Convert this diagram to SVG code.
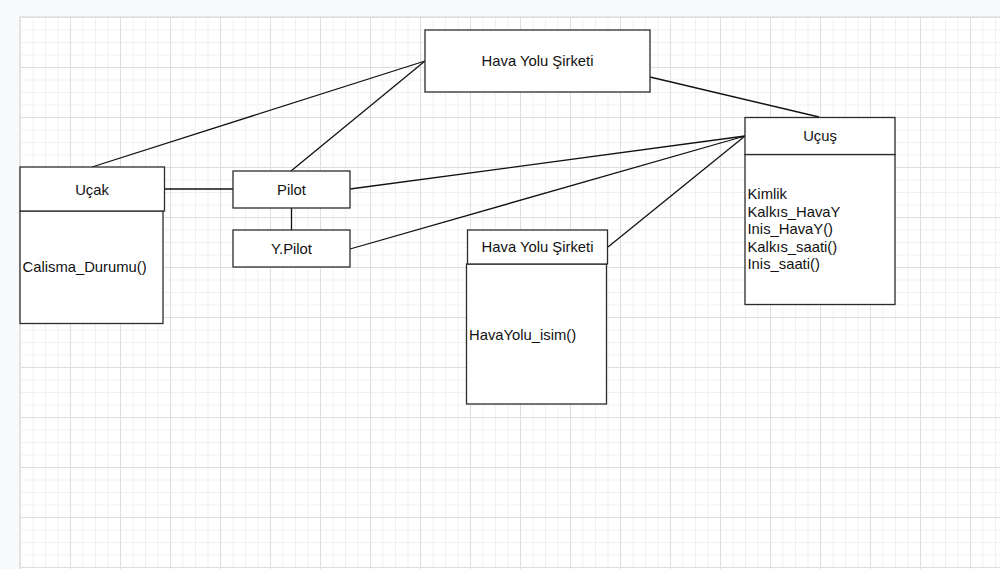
<svg xmlns="http://www.w3.org/2000/svg" width="1000" height="569" viewBox="0 0 1000 569">
  <defs>
    <pattern id="minor" x="20" y="17" width="12.5" height="12.5" patternUnits="userSpaceOnUse">
      <path d="M0 0.5 H12.5 M0.5 0 V12.5" fill="none" stroke="#f0f0f0" stroke-width="1"/>
    </pattern>
    <pattern id="major" x="20" y="17" width="50" height="50" patternUnits="userSpaceOnUse">
      <path d="M0 0.5 H50 M0.5 0 V50" fill="none" stroke="#dedede" stroke-width="1"/>
    </pattern>
    <style>
      .box { fill: #ffffff; stroke: #2b2b2b; stroke-width: 1.3; }
      .edge { fill: none; stroke: #111111; stroke-width: 1.3; }
      .lbl { font-family: "Liberation Sans", Arial, sans-serif; font-size: 14.8px; fill: #111111; }
      .mid { text-anchor: middle; }
    </style>
  </defs>
  <rect x="0" y="0" width="1000" height="569" fill="#f8f9fa"/>
  <rect x="20" y="17" width="980" height="552" fill="#ffffff"/>
  <rect x="20" y="17" width="980" height="552" fill="url(#minor)"/>
  <rect x="20" y="17" width="980" height="552" fill="url(#major)"/>
  <line x1="19.5" y1="16" x2="19.5" y2="569" stroke="#e4e6e8" stroke-width="1"/>
  <line x1="19" y1="16.5" x2="1000" y2="16.5" stroke="#e4e6e8" stroke-width="1"/>

  <g id="connectors">
    <line class="edge" x1="92" y1="167" x2="425" y2="61"/>
    <line class="edge" x1="291" y1="171" x2="425" y2="61"/>
    <line class="edge" x1="650" y1="77" x2="819" y2="117"/>
    <line class="edge" x1="165" y1="189" x2="233" y2="189"/>
    <line class="edge" x1="291.5" y1="208" x2="291.5" y2="230"/>
    <line class="edge" x1="350" y1="189" x2="745" y2="136"/>
    <line class="edge" x1="350" y1="249" x2="745" y2="136"/>
    <line class="edge" x1="608" y1="247" x2="745" y2="136"/>
  </g>

  <g id="havayolu-top">
    <rect class="box" x="425" y="30" width="225" height="62"/>
    <text class="lbl mid" x="537.5" y="66">Hava Yolu Şirketi</text>
  </g>

  <g id="ucak">
    <rect class="box" x="20" y="211" width="143" height="112.5"/>
    <rect class="box" x="20" y="167" width="144.5" height="44"/>
    <text class="lbl mid" x="92" y="195">Uçak</text>
    <text class="lbl" x="22.5" y="272">Calisma_Durumu()</text>
  </g>

  <g id="pilot">
    <rect class="box" x="233" y="171" width="117" height="37"/>
    <text class="lbl mid" x="291.5" y="195">Pilot</text>
  </g>

  <g id="ypilot">
    <rect class="box" x="233" y="230" width="117" height="37"/>
    <text class="lbl mid" x="291.5" y="254">Y.Pilot</text>
  </g>

  <g id="havayolu-class">
    <rect class="box" x="466.5" y="264" width="140" height="140"/>
    <rect class="box" x="467.5" y="230" width="140" height="34"/>
    <text class="lbl mid" x="537.5" y="252">Hava Yolu Şirketi</text>
    <text class="lbl" x="469" y="340">HavaYolu_isim()</text>
  </g>

  <g id="ucus">
    <rect class="box" x="745" y="154.5" width="150" height="150"/>
    <rect class="box" x="745" y="117.5" width="150" height="37"/>
    <text class="lbl mid" x="820" y="141">Uçuş</text>
    <text class="lbl" x="747.5" y="199">Kimlik</text>
    <text class="lbl" x="747.5" y="216.5">Kalkıs_HavaY</text>
    <text class="lbl" x="747.5" y="234">Inis_HavaY()</text>
    <text class="lbl" x="747.5" y="251.5">Kalkıs_saati()</text>
    <text class="lbl" x="747.5" y="269">Inis_saati()</text>
  </g>
</svg>
